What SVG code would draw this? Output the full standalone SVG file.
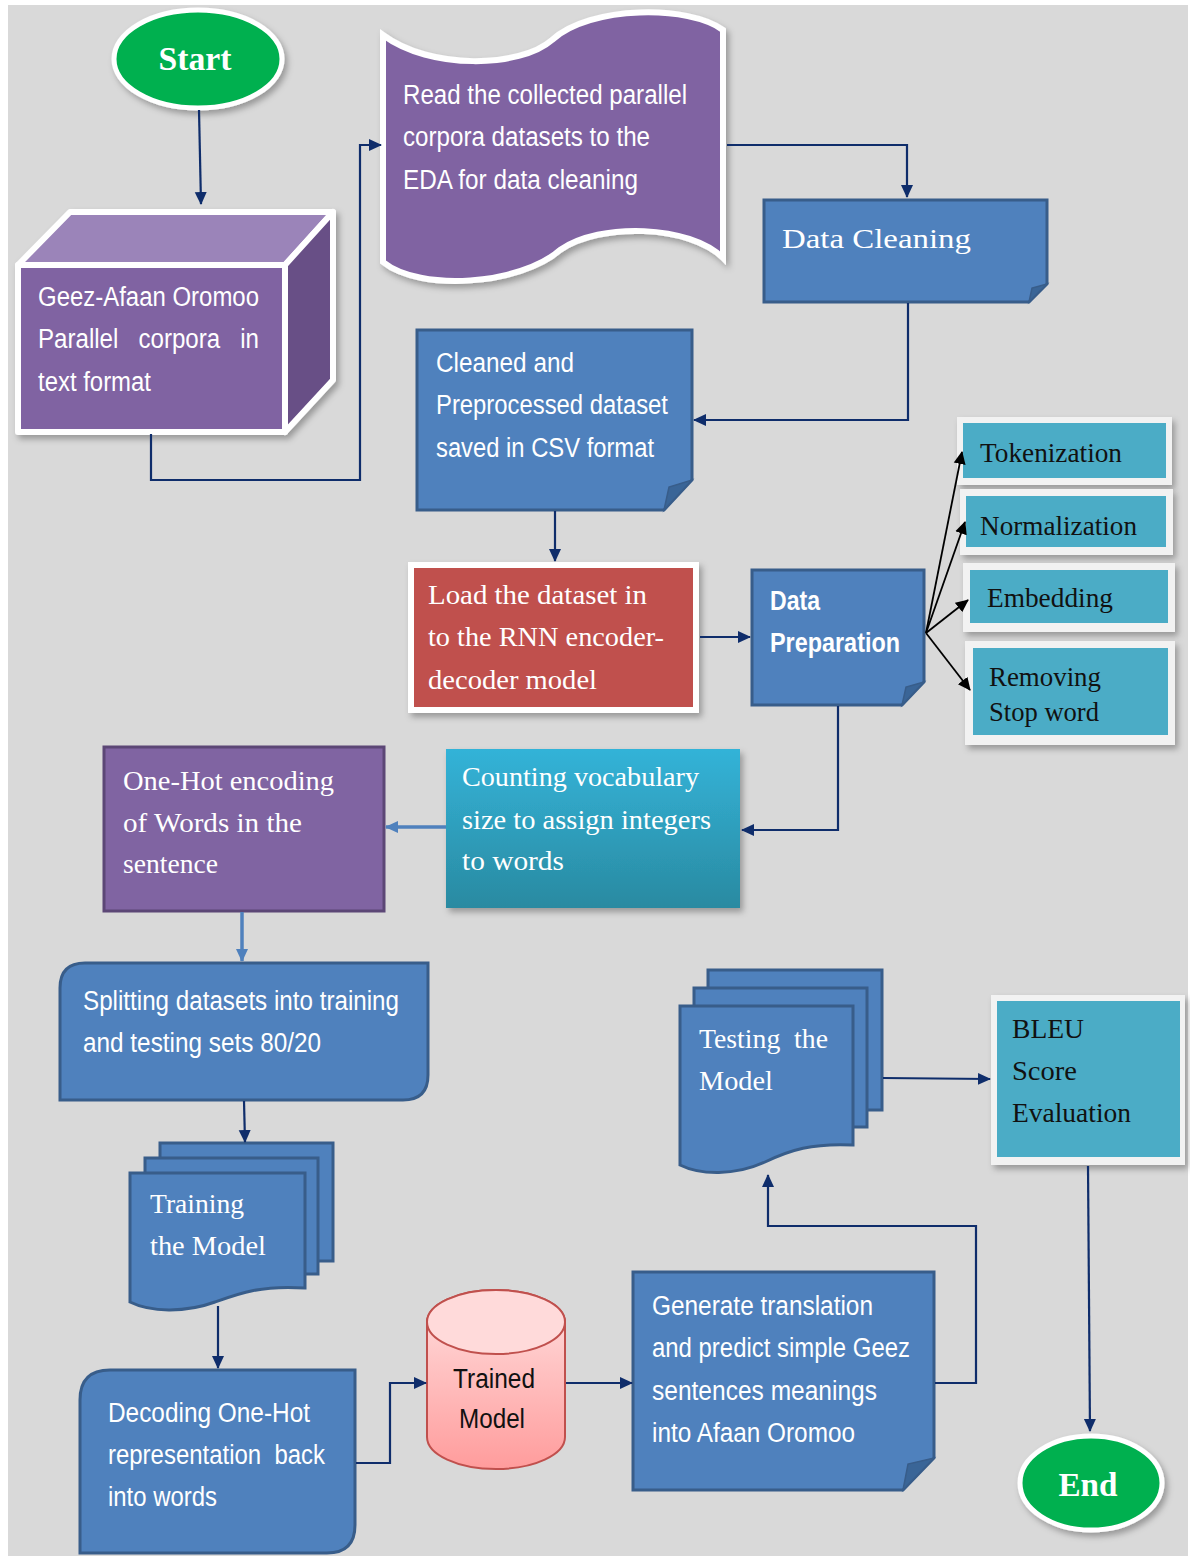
<svg xmlns="http://www.w3.org/2000/svg" width="1190" height="1556" viewBox="0 0 1190 1556">
<defs>
<style>
.sans{font-family:"Liberation Sans",Arial,sans-serif;fill:#fff;font-size:27px}
.serif{font-family:"Liberation Serif","Times New Roman",serif;fill:#fff;font-size:28px}
.pre{white-space:pre}
.dark{fill:#111}
.blue{fill:#4f81bd;stroke:#385d8a;stroke-width:3}
.fold{fill:#3a6597;stroke:#385d8a;stroke-width:1.5}
.conn{fill:none;stroke:#0f2d6b;stroke-width:2.2}
.conn2{fill:none;stroke:#4f81bd;stroke-width:3.5}
.fan{fill:none;stroke:#000;stroke-width:1.8}
.teal{fill:#4bacc6}
.frame{fill:#f2f2f2}
</style>
<marker id="ah" markerUnits="userSpaceOnUse" markerWidth="14" markerHeight="14" viewBox="0 0 14 14" refX="12" refY="7" orient="auto">
<path d="M0,1 L13,7 L0,13 Z" fill="#0f2d6b"/>
</marker>
<marker id="ahb" markerUnits="userSpaceOnUse" markerWidth="14" markerHeight="14" viewBox="0 0 14 14" refX="12" refY="7" orient="auto">
<path d="M0,1 L13,7 L0,13 Z" fill="#4f81bd"/>
</marker>
<marker id="ahk" markerUnits="userSpaceOnUse" markerWidth="14" markerHeight="14" viewBox="0 0 14 14" refX="12" refY="7" orient="auto">
<path d="M0,1 L13,7 L0,13 Z" fill="#000"/>
</marker>
<linearGradient id="gCount" x1="0" y1="0" x2="0" y2="1">
<stop offset="0" stop-color="#33b3d8"/>
<stop offset="1" stop-color="#2a8aa1"/>
</linearGradient>
<linearGradient id="gCyl" x1="0" y1="0" x2="0" y2="1">
<stop offset="0" stop-color="#ffe0e0"/>
<stop offset="1" stop-color="#ff9c9c"/>
</linearGradient>
<filter id="sh" x="-10%" y="-10%" width="125%" height="125%">
<feDropShadow dx="3" dy="4" stdDeviation="3" flood-color="#000" flood-opacity="0.3"/>
</filter>
</defs>

<rect x="0" y="0" width="1190" height="1556" fill="#fff"/>
<rect x="8" y="5" width="1180" height="1551" fill="#d9d9d9"/>

<g id="start">
<ellipse cx="198" cy="59" rx="84" ry="49" fill="#00b050" stroke="#fff" stroke-width="5" filter="url(#sh)"/>
<text x="195" y="70" text-anchor="middle" font-family="Liberation Serif,serif" font-weight="bold" font-size="34" fill="#fff" textLength="73" lengthAdjust="spacingAndGlyphs">Start</text>
</g>

<g id="corpora">
<g filter="url(#sh)" stroke="#fff" stroke-width="6" stroke-linejoin="round">
<polygon points="18,265 70,212 333,212 285,265" fill="#9b84b9"/>
<polygon points="285,265 333,212 333,380 285,432" fill="#684f86"/>
<rect x="18" y="265" width="267" height="167" fill="#8064a2"/>
</g>
<text class="sans" x="38" y="306" textLength="221" lengthAdjust="spacingAndGlyphs">Geez-Afaan Oromoo</text>
<text class="sans pre" x="38" y="348" textLength="221" lengthAdjust="spacingAndGlyphs">Parallel   corpora   in</text>
<text class="sans" x="38" y="391" textLength="113" lengthAdjust="spacingAndGlyphs">text format</text>
</g>

<g id="read">
<path d="M383,35 C430,70 520,68 552,40 C590,5 690,5 723,30 L723,258 C690,225 600,222 560,250 C520,285 420,292 383,262 Z" fill="#8064a2" stroke="#fff" stroke-width="6" filter="url(#sh)"/>
<text class="sans" x="403" y="104" textLength="284" lengthAdjust="spacingAndGlyphs">Read the collected parallel</text>
<text class="sans" x="403" y="146" textLength="247" lengthAdjust="spacingAndGlyphs">corpora datasets to the</text>
<text class="sans" x="403" y="189" textLength="235" lengthAdjust="spacingAndGlyphs">EDA for data cleaning</text>
</g>

<g id="cleaning">
<path class="blue" d="M764,200 H1047 V284 L1029,302 H764 Z"/>
<path class="fold" d="M1047,284 L1029,302 L1032,288 Z"/>
<text class="serif" x="782" y="248" font-size="34" textLength="189" lengthAdjust="spacingAndGlyphs">Data Cleaning</text>
</g>

<g id="cleaned">
<path class="blue" d="M417,330 H692 V480 L664,510 H417 Z"/>
<path class="fold" d="M692,480 L664,510 L669,487 Z"/>
<text class="sans" x="436" y="372" textLength="138" lengthAdjust="spacingAndGlyphs">Cleaned and</text>
<text class="sans" x="436" y="414" textLength="232" lengthAdjust="spacingAndGlyphs">Preprocessed dataset</text>
<text class="sans" x="436" y="457" textLength="218" lengthAdjust="spacingAndGlyphs">saved in CSV format</text>
</g>

<g id="load">
<rect x="408" y="562" width="291" height="151" fill="#fff" filter="url(#sh)"/>
<rect x="414" y="568" width="279" height="139" fill="#c0504d"/>
<text class="serif" x="428" y="604" textLength="219" lengthAdjust="spacingAndGlyphs">Load the dataset in</text>
<text class="serif" x="428" y="646" textLength="236" lengthAdjust="spacingAndGlyphs">to the RNN encoder-</text>
<text class="serif" x="428" y="689" textLength="169" lengthAdjust="spacingAndGlyphs">decoder model</text>
</g>

<g id="dataprep">
<path class="blue" d="M752,570 H924 V682 L902,705 H752 Z"/>
<path class="fold" d="M924,682 L902,705 L906,687 Z"/>
<text class="sans" x="770" y="610" font-size="22" font-weight="bold" textLength="50" lengthAdjust="spacingAndGlyphs">Data</text>
<text class="sans" x="770" y="652" font-size="22" font-weight="bold" textLength="130" lengthAdjust="spacingAndGlyphs">Preparation</text>
</g>

<g id="tokenization">
<rect class="frame" x="957" y="417" width="215" height="68" filter="url(#sh)"/>
<rect class="teal" x="963" y="423" width="203" height="55"/>
<text class="serif dark" x="980" y="462" font-size="26" textLength="142" lengthAdjust="spacingAndGlyphs">Tokenization</text>
</g>

<g id="normalization">
<rect class="frame" x="960" y="489" width="213" height="66" filter="url(#sh)"/>
<rect class="teal" x="966" y="496" width="200" height="51"/>
<text class="serif dark" x="980" y="535" font-size="26" textLength="157" lengthAdjust="spacingAndGlyphs">Normalization</text>
</g>

<g id="embedding">
<rect class="frame" x="963" y="563" width="212" height="69" filter="url(#sh)"/>
<rect class="teal" x="970" y="570" width="198" height="53"/>
<text class="serif dark" x="987" y="607" font-size="26" textLength="126" lengthAdjust="spacingAndGlyphs">Embedding</text>
</g>

<g id="stopword">
<rect class="frame" x="965" y="641" width="210" height="104" filter="url(#sh)"/>
<rect class="teal" x="973" y="648" width="195" height="87"/>
<text class="serif dark" x="989" y="686" font-size="26" textLength="112" lengthAdjust="spacingAndGlyphs">Removing</text>
<text class="serif dark" x="989" y="721" font-size="26" textLength="110" lengthAdjust="spacingAndGlyphs">Stop word</text>
</g>

<g id="counting">
<rect x="446" y="749" width="294" height="159" fill="url(#gCount)" filter="url(#sh)"/>
<text class="serif" x="462" y="786" textLength="237" lengthAdjust="spacingAndGlyphs">Counting vocabulary</text>
<text class="serif" x="462" y="829" textLength="249" lengthAdjust="spacingAndGlyphs">size to assign integers</text>
<text class="serif" x="462" y="870" textLength="102" lengthAdjust="spacingAndGlyphs">to words</text>
</g>

<g id="onehot">
<rect x="104" y="747" width="280" height="164" fill="#8064a2" stroke="#5c4776" stroke-width="3"/>
<text class="serif" x="123" y="790" textLength="211" lengthAdjust="spacingAndGlyphs">One-Hot encoding</text>
<text class="serif" x="123" y="832" textLength="179" lengthAdjust="spacingAndGlyphs">of Words in the</text>
<text class="serif" x="123" y="873" textLength="95" lengthAdjust="spacingAndGlyphs">sentence</text>
</g>

<g id="splitting">
<path class="blue" d="M85,963 H428 V1075 Q428,1100 403,1100 H60 V988 Q60,963 85,963 Z"/>
<text class="sans" x="83" y="1010" textLength="316" lengthAdjust="spacingAndGlyphs">Splitting datasets into training</text>
<text class="sans" x="83" y="1052" textLength="238" lengthAdjust="spacingAndGlyphs">and testing sets 80/20</text>
</g>

<g id="training">
<rect class="blue" x="160" y="1143" width="173" height="118"/>
<rect class="blue" x="145" y="1158" width="173" height="116"/>
<path class="blue" d="M130,1173 H305 V1288 C262,1285 240,1293 215,1302 C185,1313 150,1312 130,1302 Z"/>
<text class="serif" x="150" y="1213" textLength="94" lengthAdjust="spacingAndGlyphs">Training</text>
<text class="serif" x="150" y="1255" textLength="116" lengthAdjust="spacingAndGlyphs">the Model</text>
</g>

<g id="decoding">
<path class="blue" d="M110,1370 H355 V1525 Q355,1553 327,1553 H80 V1400 Q80,1370 110,1370 Z"/>
<text class="sans" x="108" y="1422" textLength="202" lengthAdjust="spacingAndGlyphs">Decoding One-Hot</text>
<text class="sans pre" x="108" y="1464" textLength="217" lengthAdjust="spacingAndGlyphs">representation  back</text>
<text class="sans" x="108" y="1506" textLength="109" lengthAdjust="spacingAndGlyphs">into words</text>
</g>

<g id="trained">
<path d="M427,1322 V1437 A69,32 0 0 0 565,1437 V1322 A69,32 0 0 0 427,1322 Z" fill="url(#gCyl)" stroke="#c0504d" stroke-width="2"/>
<ellipse cx="496" cy="1322" rx="69" ry="32" fill="#ffdada" stroke="#c0504d" stroke-width="2"/>
<text class="sans dark" x="494" y="1388" font-size="24" text-anchor="middle" textLength="82" lengthAdjust="spacingAndGlyphs">Trained</text>
<text class="sans dark" x="492" y="1428" font-size="24" text-anchor="middle" textLength="66" lengthAdjust="spacingAndGlyphs">Model</text>
</g>

<g id="generate">
<path class="blue" d="M633,1272 H934 V1458 L903,1490 H633 Z"/>
<path class="fold" d="M934,1458 L903,1490 L908,1464 Z"/>
<text class="sans" x="652" y="1315" textLength="221" lengthAdjust="spacingAndGlyphs">Generate translation</text>
<text class="sans" x="652" y="1357" textLength="258" lengthAdjust="spacingAndGlyphs">and predict simple Geez</text>
<text class="sans" x="652" y="1400" textLength="225" lengthAdjust="spacingAndGlyphs">sentences meanings</text>
<text class="sans" x="652" y="1442" textLength="203" lengthAdjust="spacingAndGlyphs">into Afaan Oromoo</text>
</g>

<g id="testing">
<rect class="blue" x="708" y="970" width="174" height="140"/>
<rect class="blue" x="694" y="988" width="173" height="139"/>
<path class="blue" d="M680,1006 H853 V1145 C812,1143 790,1150 765,1162 C735,1176 700,1175 680,1165 Z"/>
<text class="serif pre" x="699" y="1048" textLength="129" lengthAdjust="spacingAndGlyphs">Testing  the</text>
<text class="serif" x="699" y="1090" textLength="74" lengthAdjust="spacingAndGlyphs">Model</text>
</g>

<g id="bleu">
<rect class="frame" x="991" y="995" width="194" height="170" filter="url(#sh)"/>
<rect class="teal" x="997" y="1001" width="183" height="156"/>
<text class="serif dark" x="1012" y="1038" textLength="72" lengthAdjust="spacingAndGlyphs">BLEU</text>
<text class="serif dark" x="1012" y="1080" textLength="65" lengthAdjust="spacingAndGlyphs">Score</text>
<text class="serif dark" x="1012" y="1122" textLength="119" lengthAdjust="spacingAndGlyphs">Evaluation</text>
</g>

<g id="end">
<ellipse cx="1091" cy="1483" rx="71" ry="47" fill="#00b050" stroke="#fff" stroke-width="5" filter="url(#sh)"/>
<text x="1088" y="1496" text-anchor="middle" font-family="Liberation Serif,serif" font-weight="bold" font-size="34" fill="#fff" textLength="59" lengthAdjust="spacingAndGlyphs">End</text>
</g>

<g id="connectors">
<path class="conn" d="M199,110 L201,204" marker-end="url(#ah)"/>
<path class="conn" d="M151,434 V480 H360 V145 H381" marker-end="url(#ah)"/>
<path class="conn" d="M727,145 H907 V197" marker-end="url(#ah)"/>
<path class="conn" d="M908,303 V420 H694" marker-end="url(#ah)"/>
<path class="conn" d="M555,511 V561" marker-end="url(#ah)"/>
<path class="conn" d="M700,637 H750" marker-end="url(#ah)"/>
<path class="fan" d="M926,633 L962,452" marker-end="url(#ahk)"/>
<path class="fan" d="M926,633 L965,522" marker-end="url(#ahk)"/>
<path class="fan" d="M926,633 L968,600" marker-end="url(#ahk)"/>
<path class="fan" d="M926,633 L970,690" marker-end="url(#ahk)"/>
<path class="conn" d="M838,706 V830 H742" marker-end="url(#ah)"/>
<path class="conn2" d="M446,827 H386" marker-end="url(#ahb)"/>
<path class="conn2" d="M242,912 V961" marker-end="url(#ahb)"/>
<path class="conn" d="M244,1101 L245,1142" marker-end="url(#ah)"/>
<path class="conn" d="M218,1306 V1368" marker-end="url(#ah)"/>
<path class="conn" d="M356,1463 H390 V1383 H426" marker-end="url(#ah)"/>
<path class="conn" d="M566,1383 H632" marker-end="url(#ah)"/>
<path class="conn" d="M935,1383 H976 V1226 H768 V1175" marker-end="url(#ah)"/>
<path class="conn" d="M883,1078 L990,1079" marker-end="url(#ah)"/>
<path class="conn" d="M1088,1166 L1090,1431" marker-end="url(#ah)"/>
</g>
</svg>
